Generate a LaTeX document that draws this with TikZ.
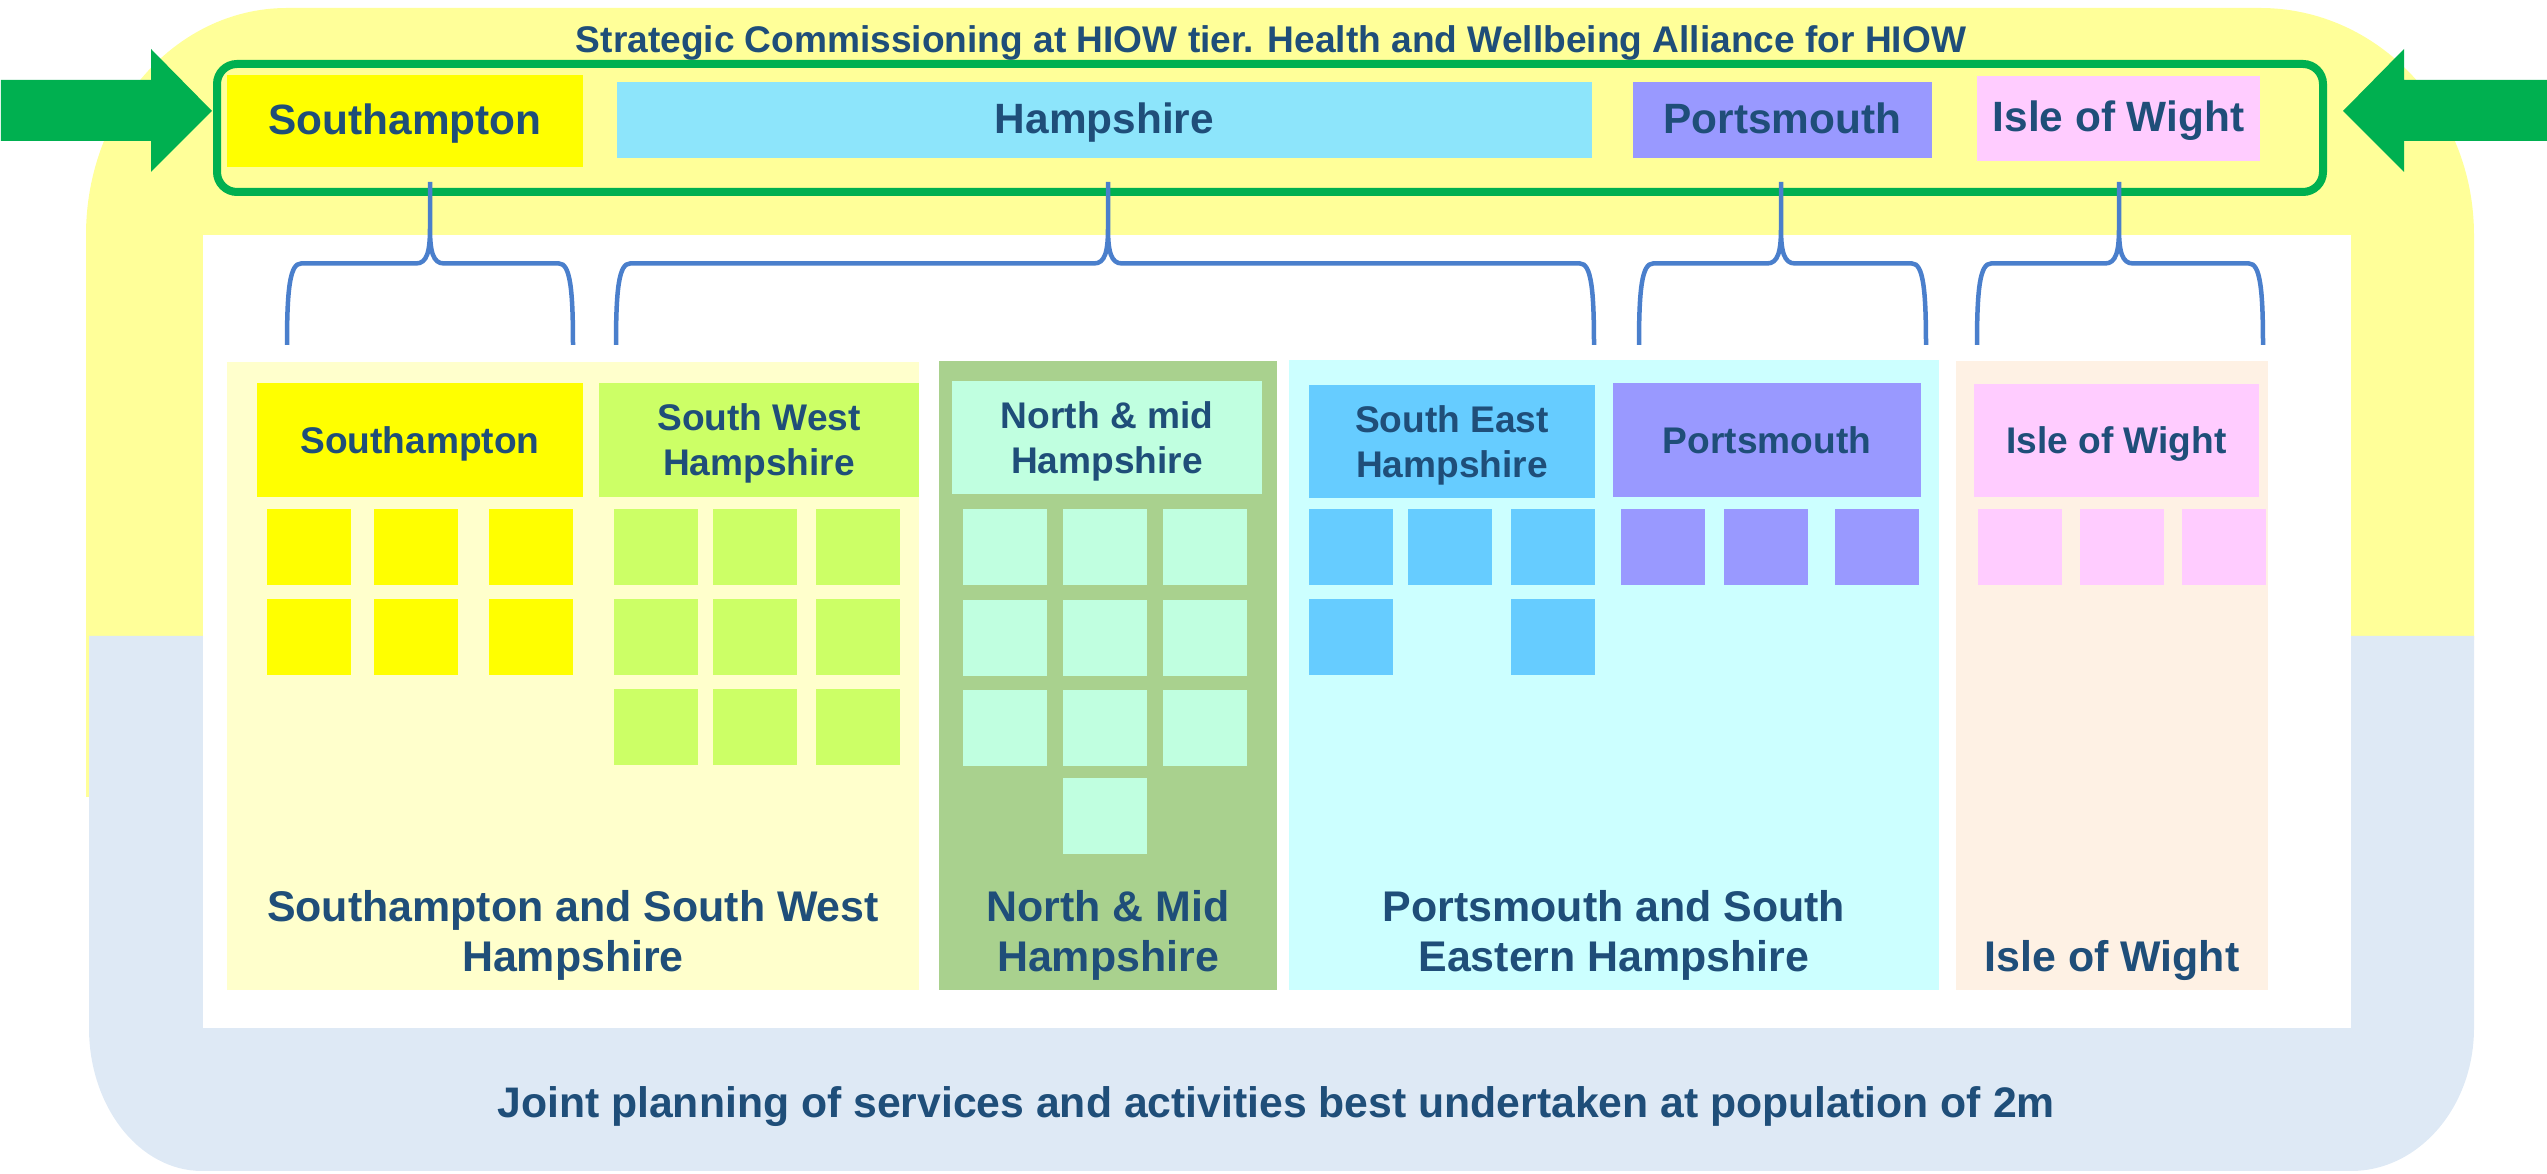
\documentclass[tikz,border=0pt]{standalone}
\usepackage{fontspec}
\setmainfont{Liberation Sans}
\usetikzlibrary{calc}
\newcommand{\px}{0.01cm}
\definecolor{txtblue}{HTML}{1F4E79}
\definecolor{bandyellow}{HTML}{FFFF99}
\definecolor{bandblue}{HTML}{DEE9F5}
\definecolor{framegreen}{HTML}{00B050}
\definecolor{bracecol}{HTML}{4A7FCC}
\definecolor{sotoncol}{HTML}{FFFF00}
\definecolor{swcol}{HTML}{CCFF66}
\definecolor{hantscol}{HTML}{8DE5FB}
\definecolor{nmcol}{HTML}{C0FFE0}
\definecolor{secol}{HTML}{66CCFF}
\definecolor{pompeycol}{HTML}{9999FF}
\definecolor{iowcol}{HTML}{FFCCFF}
\definecolor{regsw}{HTML}{FFFFCC}
\definecolor{regnm}{HTML}{A9D18E}
\definecolor{regse}{HTML}{CCFFFF}
\definecolor{regiow}{HTML}{FEF1E4}
\newcommand{\regbrace}[3]{% #1 left foot, #2 stem top, #3 right foot
\coordinate (bm) at ($(#1)!0.5!(#2)$);
\draw[bracestyle] (#1) .. controls ($(#1|-bm)+(0,25)$) and ($(#1|-bm)+(3,0)$) .. ($(#1|-bm)+(14,0)$)
 -- ($(#2|-bm)+(-14,0)$) .. controls ($(#2|-bm)+(-3,0)$) and ($(#2|-bm)+(0,-12)$) .. ($(#2|-bm)+(0,-35)$) -- (#2)
 ($(#2|-bm)+(0,-35)$) .. controls ($(#2|-bm)+(0,-12)$) and ($(#2|-bm)+(3,0)$) .. ($(#2|-bm)+(14,0)$)
 -- ($(#3|-bm)+(-14,0)$) .. controls ($(#3|-bm)+(-3,0)$) and ($(#3|-bm)+(0,25)$) .. (#3);
}

\begin{document}
\begin{tikzpicture}[x=\px,y=-\px,
  cell/.style 2 args={minimum width=#1*\px,minimum height=#2*\px},
  area/.style={anchor=north west,inner sep=0pt,outer sep=0pt},
  boxtext/.style={area,text=txtblue,font=\fontsize{10.55}{12.8}\selectfont\bfseries,align=center,text depth=0pt},
  topbox/.style={area,text=txtblue,font=\fontsize{12.05}{15}\selectfont\bfseries,text height=0.75em,text depth=0pt},
  tile/.style={area,cell={84}{76}},
  reglabel/.style={anchor=north,inner sep=0pt,text=txtblue,font=\fontsize{12.2}{14.2}\selectfont\bfseries,align=center},
  bracestyle/.style={draw=bracecol,line width=4.5*\px}]
\useasboundingbox (0,0) rectangle (2547,1174);
\fill[bandyellow] (86,797) -- (86,235) arc[start angle=180,end angle=90,x radius=201*\px,y radius=227*\px]
  -- (2260,8) arc[start angle=90,end angle=0,x radius=214*\px,y radius=227*\px] -- (2474,640) -- (89,640) -- (89,797) -- cycle;
\fill[bandblue] (89,636) -- (2474,636) -- (2474,1028) arc[start angle=0,end angle=-90,x radius=123*\px,y radius=143*\px]
  -- (202,1171) arc[start angle=270,end angle=180,x radius=113*\px,y radius=143*\px] -- cycle;
\fill[white] (203,235) rectangle (2351,1028);

\node[anchor=base,text=txtblue,font=\fontsize{10.55}{12}\selectfont\bfseries] (title) at (1271,53)
  {Strategic Commissioning at HIOW tier. Health and Wellbeing Alliance for HIOW};
\node[area,cell={2106}{128},draw=framegreen,line width=8*\px,rounded corners=20*\px] (hiow) at (217,64) {};
\node[topbox,cell={356}{92},fill=sotoncol] (tsoton) at (227,75) {Southampton};
\node[topbox,cell={975}{76},fill=hantscol] (thants) at (617,82) {Hampshire};
\node[topbox,cell={299}{76},fill=pompeycol] (tpompey) at (1633,82) {Portsmouth};
\node[topbox,cell={283}{85},fill=iowcol] (tiow) at (1977,76) {Isle of Wight};

\coordinate (ltip) at (212,111);
\coordinate (rtip) at (2343,111);
\fill[framegreen] (ltip) -- ++(-61,-62) -- ++(0,31) -- ++(-150,0) -- ++(0,61) -- ++(150,0) -- ++(0,31) -- cycle;
\fill[framegreen] (rtip) -- ++(61,-62) -- ++(0,31) -- ++(150,0) -- ++(0,61) -- ++(-150,0) -- ++(0,31) -- cycle;

\coordinate (b1l) at (287,345); \coordinate (b1t) at (430,182); \coordinate (b1r) at (573,345);
\coordinate (b2l) at (616,345); \coordinate (b2t) at (1108,182); \coordinate (b2r) at (1594,345);
\coordinate (b3l) at (1639,345); \coordinate (b3t) at (1781,182); \coordinate (b3r) at (1926,345);
\coordinate (b4l) at (1977,345); \coordinate (b4t) at (2119,182); \coordinate (b4r) at (2263,345);
\foreach \b in {1,2,3,4}{
\regbrace{b\b l}{b\b t}{b\b r}
}

\node[area,cell={692}{628},fill=regsw] (rsw) at (227,362) {};
\node[area,cell={338}{629},fill=regnm] (rnm) at (939,361) {};
\node[area,cell={650}{630},fill=regse] (rse) at (1289,360) {};
\node[area,cell={312}{629},fill=regiow] (riow) at (1956,361) {};

\node[boxtext,cell={326}{114},fill=sotoncol] (soton) at (257,383) {Southampton};
\node[boxtext,cell={320}{114},fill=swcol] (swh) at (599,383) {South West\\Hampshire};
\node[boxtext,cell={310}{113},fill=nmcol] (nmh) at (952,381) {North \& mid\\Hampshire};
\node[boxtext,cell={286}{113},fill=secol] (seh) at (1309,385) {South East\\Hampshire};
\node[boxtext,cell={308}{114},fill=pompeycol] (pompey) at (1613,383) {Portsmouth};
\node[boxtext,cell={285}{113},fill=iowcol] (iow) at (1974,384) {Isle of Wight};

\foreach \x in {267,374,489}{\foreach \y in {509,599}{
\node[tile,fill=sotoncol] (so-\x-\y) at (\x,\y) {};}}
\foreach \x in {614,713,816}{\foreach \y in {509,599,689}{
\node[tile,fill=swcol] (sw-\x-\y) at (\x,\y) {};}}
\foreach \x/\y in {963/509,1063/509,1163/509,963/600,1063/600,1163/600,963/690,1063/690,1163/690,1063/778}{
\node[tile,fill=nmcol] (nm-\x-\y) at (\x,\y) {};}
\foreach \x/\y in {1309/509,1408/509,1511/509,1309/599,1511/599}{
\node[tile,fill=secol] (se-\x-\y) at (\x,\y) {};}
\foreach \x in {1621,1724,1835}{
\node[tile,fill=pompeycol] (po-\x) at (\x,509) {};}
\foreach \x in {1978,2080,2182}{
\node[tile,fill=iowcol] (iw-\x) at (\x,509) {};}

\node[reglabel] (lsw) at ($(rsw.south)+(0,-100)$) {Southampton and South West\\Hampshire};
\node[reglabel] (lnm) at ($(rnm.south)+(0,-100)$) {North \& Mid\\Hampshire};
\node[reglabel] (lse) at ($(rse.south)+(0,-100)$) {Portsmouth and South\\Eastern Hampshire};
\node[reglabel] (liow) at ($(riow.south)+(0,-50)$) {Isle of Wight};

\node[anchor=base,text=txtblue,font=\fontsize{12.15}{14}\selectfont\bfseries] (joint) at (1276,1118)
  {Joint planning of services and activities best undertaken at population of 2m};
\end{tikzpicture}
\end{document}
